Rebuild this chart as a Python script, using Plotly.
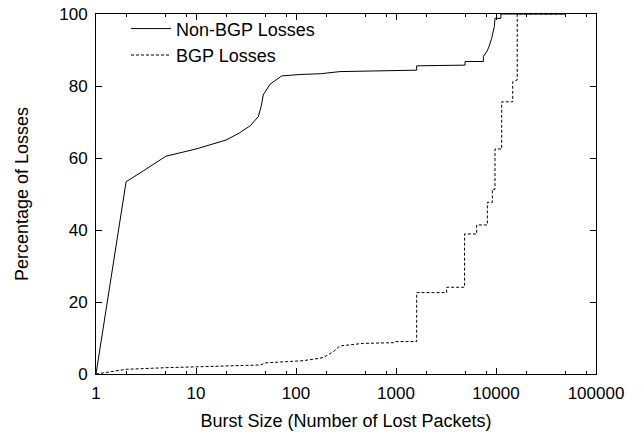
import plotly.graph_objects as go

# Non-BGP losses (cumulative %, vs burst size)
nonbgp_x = [1, 2, 3, 5, 10, 20, 27, 35, 42, 45, 47, 55, 72, 110, 175, 275, 1610, 1610,
            4900, 4900, 7470, 7470, 8070, 8510, 9040, 9240, 9620, 9770, 11200, 11200, 50000]
nonbgp_y = [0, 53.4, 56.5, 60.5, 62.5, 65.0, 66.9, 69.0, 71.5, 74.5, 77.5, 80.5, 82.8, 83.2, 83.4, 84.0, 84.4, 85.6,
            85.8, 86.8, 86.8, 88.2, 89.5, 90.9, 93.2, 94.2, 96.5, 98.8, 98.8, 100, 100]

# BGP losses
bgp_x = [1, 2, 5, 10, 43.6, 50, 118, 174, 188, 236, 275, 471, 940, 960, 1610, 1610,
         3210, 3210, 4850, 4850, 6410, 6410, 8190, 8190, 9190, 9190, 9770, 9770,
         11400, 11400, 14700, 14700, 16300, 16300, 50000]
bgp_y = [0, 1.3, 1.75, 2.0, 2.5, 3.1, 3.7, 4.4, 4.6, 6.2, 7.8, 8.5, 8.7, 9.0, 9.0, 22.6,
         22.6, 24.1, 24.1, 38.9, 38.9, 41.4, 41.4, 47.7, 47.7, 51.3, 51.3, 62.5,
         62.5, 75.6, 75.6, 81.2, 81.7, 100, 100]

x_ticks = [1, 10, 100, 1000, 10000, 100000]
x_ticktext = ["1", "10", "100", "1000", "10000", "100000"]
x_minor = [m * d for d in [1, 10, 100, 1000, 10000] for m in (2, 5, 8)]
y_ticks = [0, 20, 40, 60, 80, 100]

FONT = "Liberation Sans, Arial, Helvetica, sans-serif"
TICK_FONT = dict(family=FONT, size=17, color="black")
TITLE_FONT = dict(family=FONT, size=18, color="black")

fig = go.Figure()
fig.add_trace(go.Scatter(x=nonbgp_x, y=nonbgp_y, mode="lines", name="Non-BGP Losses",
                         line=dict(color="black", width=1)))
fig.add_trace(go.Scatter(x=bgp_x, y=bgp_y, mode="lines", name="BGP Losses",
                         line=dict(color="black", width=1, dash="3px,2px")))

axis_common = dict(showline=True, linecolor="black", linewidth=1, mirror="ticks",
                   ticks="inside", ticklen=6, tickcolor="black", tickwidth=1,
                   showgrid=False, zeroline=False, automargin=False,
                   tickfont=TICK_FONT)

fig.update_xaxes(type="log", range=[0, 5], tickmode="array", tickvals=x_ticks, ticktext=x_ticktext,
                 minor=dict(tickmode="array", tickvals=x_minor, ticks="inside", ticklen=3,
                            tickcolor="black", showgrid=False),
                 ticklabelstandoff=4,
                 title=dict(text="Burst Size (Number of Lost Packets)", font=TITLE_FONT, standoff=11),
                 **axis_common)
fig.update_yaxes(range=[0, 100], tickmode="array", tickvals=y_ticks,
                 ticklabelstandoff=4,
                 title=dict(text="Percentage of Losses", font=TITLE_FONT, standoff=25),
                 **axis_common)

fig.update_layout(
    width=641, height=432,
    margin=dict(l=96, r=45, t=14, b=58, autoexpand=False),
    paper_bgcolor="white", plot_bgcolor="white",
    font=dict(family=FONT, size=18, color="black"),
    showlegend=True,
    legend=dict(x=0.06, y=1.01, xanchor="left", yanchor="top",
                bgcolor="rgba(0,0,0,0)", borderwidth=0,
                font=TITLE_FONT, tracegroupgap=0, itemwidth=40),
)

fig.write_html("out.html", config={"displayModeBar": False},
               post_script="document.body.style.margin='0';document.documentElement.style.margin='0';")
